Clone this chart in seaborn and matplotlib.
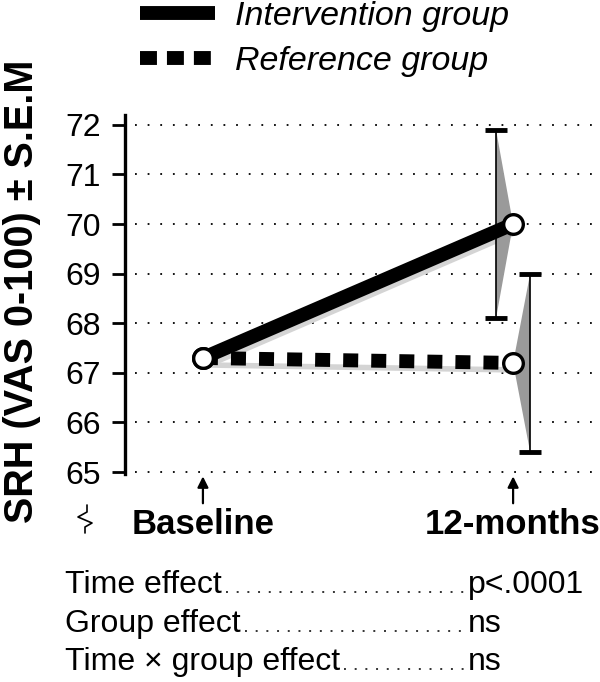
import matplotlib
matplotlib.use("Agg")
import matplotlib.pyplot as plt
import matplotlib.transforms as mtransforms
from matplotlib.lines import Line2D
import pandas as pd
import seaborn as sns

times = ["Baseline", "12-months"]
time_pos = [0, 1]
groups = ["Intervention group", "Reference group"]
intervention_mean = [67.3, 70.0]
intervention_sem = [0.0, 1.9]
reference_mean = [67.3, 67.2]
reference_sem = [0.0, 1.8]
yticks = [65, 66, 67, 68, 69, 70, 71, 72]
effects = ["Time effect", "Group effect", "Time \u00d7 group effect"]
p_values = ["p<.0001", "ns", "ns"]

df = pd.DataFrame({
    "time": time_pos * 2,
    "srh": intervention_mean + reference_mean,
    "group": [groups[0]] * 2 + [groups[1]] * 2,
})

sns.set_style("white")
plt.rcParams["font.family"] = ["Liberation Sans", "DejaVu Sans"]
plt.rcParams["text.color"] = "black"
plt.rcParams["axes.labelcolor"] = "black"
plt.rcParams["xtick.color"] = "black"
plt.rcParams["ytick.color"] = "black"

fig = plt.figure(figsize=(6, 6.82), dpi=100)
ax = fig.add_axes([0.225, 0.3057, 0.762, 0.5257])

# soft grey shadows under the two lines
shadow_i = mtransforms.offset_copy(ax.transData, fig=fig, x=2, y=-4, units="dots")
shadow_r = mtransforms.offset_copy(ax.transData, fig=fig, x=2, y=-7, units="dots")
ax.plot(time_pos, intervention_mean, color="#d4d4d4", lw=10, transform=shadow_i,
        solid_capstyle="butt", zorder=1)
ax.plot(time_pos, reference_mean, color="#d4d4d4", lw=4, transform=shadow_r,
        solid_capstyle="butt", zorder=1)

sns.lineplot(data=df, x="time", y="srh", hue="group", style="group",
             palette=["black", "black"],
             dashes={groups[0]: "", groups[1]: (1.08, 0.94)},
             linewidth=10, legend=False, ax=ax, zorder=3)

# SEM bars with grey kites at 12 months
bar_shift = {groups[0]: -0.055, groups[1]: 0.055}
for g, m, s in [(groups[0], intervention_mean, intervention_sem),
                (groups[1], reference_mean, reference_sem)]:
    xb = time_pos[1] + bar_shift[g]
    ax.fill([xb, time_pos[1], xb], [m[1] + s[1], m[1], m[1] - s[1]],
            color="#9a9a9a", lw=0, zorder=2)
    ax.errorbar(xb, m[1], yerr=s[1], fmt="none", ecolor="black",
                elinewidth=1.2, capsize=8, capthick=3.5, zorder=2.5)

sns.scatterplot(data=df, x="time", y="srh", s=200, color="white",
                edgecolor="black", linewidth=2.4, zorder=5, legend=False, ax=ax)

ax.set_xlim(-0.219, 1.255)
ax.set_ylim(64.97, 72.2)
ax.set_yticks(yticks)
ax.set_xticks(time_pos)
ax.set_xticklabels(times, fontsize=25, fontweight="bold")
ax.tick_params(axis="x", length=0, pad=25)
ax.tick_params(axis="y", length=9.4, width=2, pad=8, labelsize=23, left=True)
ax.yaxis.grid(True, linestyle=(0, (1, 6)), color="black", lw=1.3)
ax.xaxis.grid(False)
for side in ["top", "right", "bottom"]:
    ax.spines[side].set_visible(False)
ax.spines["left"].set_position(("outward", 7.2))
ax.spines["left"].set_linewidth(2.4)
ax.spines["left"].set_color("black")
ax.set_xlabel("")
ax.set_ylabel("")
fig.text(22 / 600, 1 - 291 / 682, "SRH (VAS 0-100) \u00b1 S.E.M", fontsize=28.5,
         fontweight="bold", rotation=90, ha="center", va="center")

for t in time_pos:
    ax.annotate("", xy=(t, -0.008), xytext=(t, -0.083),
                xycoords=("data", "axes fraction"),
                arrowprops=dict(arrowstyle="-|>", lw=1.6, color="black",
                                mutation_scale=16, shrinkA=0, shrinkB=0))

# axis break mark
fig.add_artist(Line2D([87 / 600, 87 / 600, 78 / 600, 92 / 600, 85 / 600, 85 / 600],
                      [1 - 505 / 682, 1 - 512 / 682, 1 - 517 / 682, 1 - 523 / 682,
                       1 - 527 / 682, 1 - 533 / 682],
                      color="black", lw=1.2, transform=fig.transFigure))

handles = [Line2D([], [], color="black", lw=10, solid_capstyle="butt"),
           Line2D([], [], color="black", lw=10, dashes=(1.22, 0.72))]
fig.legend(handles, groups, loc="upper left", bbox_to_anchor=(140 / 600, 1 - 1 / 682),
           frameon=False, prop={"size": 24.5, "style": "italic"},
           handlelength=2.2, handletextpad=0.6, labelspacing=0.42,
           borderpad=0, borderaxespad=0)

# effects table with dotted leaders
row_y = [593, 632, 670]
value_x = 468
fig.canvas.draw()
renderer = fig.canvas.get_renderer()
for name, pv, y in zip(effects, p_values, row_y):
    lab = fig.text(65 / 600, 1 - y / 682, name, fontsize=23, va="baseline")
    fig.text(value_x / 600, 1 - y / 682, pv, fontsize=23, va="baseline")
    x_end = lab.get_window_extent(renderer).x1 / 600
    fig.add_artist(Line2D([x_end + 4 / 600, (value_x - 4) / 600],
                          [1 - (y - 1) / 682] * 2, color="#333333", lw=1.4,
                          linestyle=(0, (1, 4.5)), transform=fig.transFigure))

fig.savefig("out.png", dpi=100)
